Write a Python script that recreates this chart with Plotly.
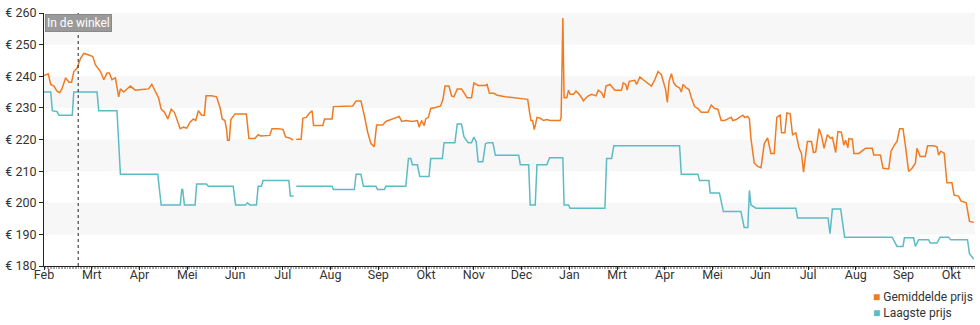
import plotly.graph_objects as go

# ---- data (x = days since start of chart) ----
avg_days = [0, 2.7, 4.3, 6.3, 8.3, 10.0, 11.4, 13.8, 15.9, 17.6, 19.0, 21.1, 23.3, 25.4, 28.6, 31.1, 32.8, 36.0, 38.1, 40.2,
            41.7, 43.3, 45.5, 47.6, 48.7, 50.8, 55.0, 58.2, 62.4, 66.6, 68.7, 70.9, 73.0, 74.7, 76.8, 78.9, 81.1, 83.1, 84.6, 86.8,
            88.9, 91.0, 93.1, 95.2, 96.7, 98.4, 100.5, 102.2, 103.3, 106.8, 110.0, 112.2, 113.6, 115.3, 116.3, 117.0, 118.1, 119.1, 121.7, 129.0,
            130.6, 134.4, 136.5, 138.2, 143.9, 145.3, 149.2, 152.3, 154.0, 156.6, 158.7, 159.8, 160.8, 163.9, 165.0, 167.1, 169.3, 170.9, 171.8, 177.7,
            178.8, 183.6, 184.5, 196.8, 198.9, 202.0, 204.2, 206.3, 208.4, 210.5, 212.0, 215.8, 217.9, 221.1, 224.2, 226.4, 228.0, 230.6, 234.8, 238.0,
            239.1, 240.7, 242.3, 243.3, 245.0, 246.5, 249.6, 252.8, 254.3, 255.6, 258.1, 259.8, 261.3, 263.4, 266.1, 267.7, 269.7, 272.5, 274.0, 276.7,
            281.4, 282.4, 283.9, 286.7, 288.8, 294.1, 298.3, 303.6, 308.3, 309.5, 310.4, 311.4, 312.5, 313.4, 314.2, 316.3, 318.4, 320.5, 322.6, 329.0,
            329.6, 330.7, 331.5, 333.2, 334.3, 335.3, 337.5, 339.1, 340.6, 342.7, 343.8, 345.5, 347.0, 349.1, 351.8, 353.3, 355.4, 356.9, 358.2, 360.7,
            363.9, 368.1, 369.2, 370.8, 371.7, 373.0, 376.6, 377.7, 379.8, 381.9, 384.0, 387.2, 389.3, 391.4, 393.5, 395.0, 396.2, 397.3, 398.4, 399.9,
            401.4, 403.0, 405.1, 406.2, 407.3, 409.4, 411.1, 412.6, 414.7, 416.8, 418.9, 423.2, 425.3, 427.4, 429.5, 431.6, 433.8, 435.9, 438.0, 439.0,
            441.2, 443.2, 445.4, 446.6, 448.6, 449.6, 450.6, 452.7, 454.9, 457.0, 459.1, 461.2, 463.3, 465.4, 467.1, 469.2, 470.1, 472.2, 473.5, 475.6,
            477.1, 479.2, 481.3, 482.8, 484.1, 485.5, 486.6, 489.2, 490.4, 491.9, 494.0, 495.5, 497.2, 499.3, 501.4, 502.5, 504.6, 506.0, 508.2, 509.8,
            510.9, 512.4, 513.0, 515.2, 516.2, 519.4, 520.9, 523.6, 527.9, 528.9, 533.1, 534.8, 538.4, 539.9, 542.0, 543.7, 545.4, 547.5, 549.0, 551.1,
            553.3, 555.4, 556.4, 558.5, 561.7, 563.2, 567.0, 569.2, 570.2, 571.7, 573.8, 575.5, 578.7, 580.1, 582.9, 584.4, 587.8, 589.2, 589.9, 592.6]
avg_price = [240.2, 240.8, 237.4, 236.9, 235.3, 234.8, 236.0, 239.5, 238.1, 238.1, 241.5, 242.6, 245.7, 247.2, 246.7, 246.2, 243.6, 241.5, 238.9, 241.0,
             241.0, 238.9, 239.5, 233.5, 236.0, 235.0, 236.9, 235.6, 235.8, 236.0, 237.4, 235.0, 233.2, 229.6, 228.6, 226.5, 229.6, 228.6, 226.7, 223.4,
             223.9, 223.6, 225.5, 226.5, 226.0, 229.1, 227.7, 227.7, 233.8, 233.8, 233.5, 230.1, 226.5, 226.0, 223.4, 219.8, 219.8, 226.3, 228.1, 228.1,
             220.3, 220.3, 221.5, 221.1, 221.3, 223.4, 223.4, 223.2, 220.8, 220.5, 219.8, None, 220.1, 220.1, 226.7, 227.0, 228.4, 229.1, 224.4, 224.4,
             226.5, 226.5, 230.4, 230.6, 232.2, 232.2, 227.5, 222.3, 218.7, 217.7, 224.6, 224.6, 225.7, 226.3, 227.0, 227.3, 225.7, 226.0, 225.7, 226.0,
             223.9, 226.0, 224.4, 226.5, 227.0, 229.8, 230.1, 230.6, 232.7, 236.9, 236.9, 233.8, 233.5, 236.0, 236.0, 234.6, 233.2, 233.2, 237.9, 237.1,
             237.1, 237.4, 234.6, 234.6, 234.0, 233.5, 233.2, 233.0, 232.7, 228.6, 226.0, 226.0, 223.1, 225.0, 227.0, 226.7, 226.0, 226.3, 226.0, 226.0,
             227.0, 258.4, 233.2, 233.2, 235.6, 234.3, 234.3, 235.3, 234.6, 233.2, 232.2, 233.2, 233.8, 234.3, 233.8, 235.6, 234.8, 233.2, 236.9, 237.4,
             235.6, 235.6, 237.9, 237.4, 235.6, 238.4, 238.7, 237.4, 239.8, 238.9, 238.1, 236.9, 238.9, 241.5, 240.5, 237.4, 235.8, 231.7, 238.4, 240.8,
             237.9, 236.9, 236.3, 235.0, 237.4, 236.3, 235.8, 233.2, 230.4, 229.8, 228.6, 228.6, 230.9, 229.8, 229.6, 226.0, 226.0, 226.5, 227.0, 226.0,
             226.3, 227.0, 227.7, 227.0, 227.3, 226.5, 220.3, 212.5, 211.5, 211.1, 218.7, 220.5, 215.6, 215.6, 227.0, 227.7, 222.1, 222.1, 228.4, 228.1,
             221.5, 222.1, 217.2, 215.6, 209.7, 215.3, 219.4, 219.4, 215.9, 216.1, 223.4, 221.3, 217.2, 221.5, 220.3, 220.8, 215.9, 222.5, 222.3, 218.2,
             219.8, 217.4, 220.3, 220.1, 215.6, 215.6, 216.1, 217.2, 217.2, 215.1, 215.1, 210.9, 210.7, 216.3, 218.2, 219.4, 223.4, 223.4, 218.2, 209.9,
             210.9, 212.5, 217.2, 214.6, 214.6, 218.0, 218.0, 217.7, 215.1, 216.3, 215.6, 206.3, 206.3, 202.4, 202.1, 200.6, 200.0, 196.4, 194.1, 193.8]

low_days = [0, 4.3, 5.3, 8.4, 9.5, 18.0, 19.0, 33.8, 34.9, 46.5, 48.7, 72.5, 74.7, 86.8, 87.8, 88.4, 89.5, 96.3, 97.3, 103.6,
            104.7, 120.6, 122.1, 128.4, 129.7, 131.2, 135.4, 136.5, 138.6, 139.6, 156.1, 157.0, 159.1, 159.9, 160.8, 183.6, 184.5, 197.8, 198.9, 202.0,
            203.6, 211.5, 212.6, 216.9, 217.9, 230.6, 232.3, 233.8, 234.8, 238.0, 239.5, 245.4, 246.5, 253.9, 255.0, 261.9, 263.4, 266.1, 267.7, 270.4,
            272.5, 274.0, 275.5, 276.7, 279.7, 281.4, 283.1, 286.1, 287.7, 302.6, 303.6, 308.9, 309.9, 313.1, 314.2, 320.5, 322.2, 330.7, 331.5, 334.3,
            335.3, 357.5, 358.6, 361.8, 363.2, 405.1, 406.2, 416.8, 417.8, 423.8, 424.6, 430.5, 433.0, 444.2, 446.3, 448.6, 449.6, 450.6, 453.8, 479.2,
            480.3, 499.7, 501.0, 502.5, 507.8, 510.3, 540.6, 543.7, 547.5, 548.4, 554.3, 555.4, 557.5, 563.8, 564.9, 569.2, 571.2, 576.5, 578.0, 588.6,
            589.9, 592.6]
low_price = [235.0, 235.0, 229.1, 228.8, 227.7, 227.7, 235.0, 235.0, 229.1, 229.1, 209.0, 209.0, 199.3, 199.3, 204.2, 204.2, 199.3, 199.3, 205.9, 205.9,
             205.2, 205.2, 199.3, 199.3, 200.0, 199.3, 199.3, 205.2, 205.2, 207.0, 207.0, 202.1, 202.1, None, 205.2, 205.2, 204.2, 204.2, 209.0, 209.0,
             205.2, 205.2, 204.2, 204.2, 205.2, 205.2, 214.0, 214.0, 212.0, 212.0, 208.3, 208.3, 214.0, 214.0, 219.0, 219.0, 224.9, 224.9, 220.8, 219.0,
             219.0, 220.8, 219.2, 213.0, 213.0, 218.7, 219.0, 219.0, 215.0, 215.0, 212.0, 212.0, 199.3, 199.3, 212.0, 212.0, 214.2, 214.2, 199.3, 199.3,
             198.3, 198.3, 214.0, 214.0, 218.0, 218.0, 209.0, 209.0, 207.0, 207.0, 203.1, 203.1, 197.2, 197.2, 192.2, 192.2, 203.9, 199.3, 198.3, 198.3,
             195.2, 195.2, 190.2, 198.0, 198.0, 189.1, 189.1, 186.2, 186.2, 188.9, 188.9, 186.2, 188.3, 188.3, 187.3, 187.3, 189.1, 189.1, 188.3, 188.3,
             183.8, 182.2]

tick_labels = ["Feb", "Mrt", "Apr", "Mei", "Jun", "Jul", "Aug", "Sep", "Okt", "Nov",
               "Dec", "Jan", "Mrt", "Apr", "Mei", "Jun", "Jul", "Aug", "Sep", "Okt"]
month_len = 365.25 / 12
tick_days = [i * month_len for i in range(len(tick_labels))]

y_ticks = [180, 190, 200, 210, 220, 230, 240, 250, 260]
band_ranges = [(190, 200), (210, 220), (230, 240), (250, 260)]
event_day = 21.8
event_label = "In de winkel"
x_end = 593.4

orange = "#f07b22"
cyan = "#5cbcc6"
font_family = "Roboto, Arial, sans-serif"

fig = go.Figure()

for lo, hi in band_ranges:
    fig.add_hrect(y0=lo, y1=hi, fillcolor="#f7f7f7", line_width=0, layer="below")

fig.add_trace(go.Scatter(x=avg_days, y=avg_price, mode="lines", name="Gemiddelde prijs",
                         line=dict(color=orange, width=1.5), connectgaps=False, showlegend=False))
fig.add_trace(go.Scatter(x=low_days, y=low_price, mode="lines", name="Laagste prijs",
                         line=dict(color=cyan, width=1.5), connectgaps=False, showlegend=False))

fig.add_vline(x=event_day, line=dict(color="#222", width=1, dash="dot"))

fig.add_annotation(x=0, y=1, xref="paper", yref="paper", xanchor="left", yanchor="top",
                   text=event_label, showarrow=False, font=dict(family=font_family, size=12, color="white"),
                   bgcolor="#9a9a9a", bordercolor="#8a8a8a", borderwidth=1, borderpad=1, xshift=1, yshift=-1)

legend_text = (f'<span style="color:{orange}">■</span> Gemiddelde prijs<br>'
               f'<span style="color:{cyan}">■</span> Laagste prijs')
fig.add_annotation(x=0.888, y=-0.085, xref="paper", yref="paper", xanchor="left", yanchor="top",
                   text=legend_text, showarrow=False, align="left",
                   font=dict(family=font_family, size=12, color="#333"))

fig.update_layout(
    width=980, height=325,
    margin=dict(l=40, r=5, t=9, b=59),
    paper_bgcolor="white", plot_bgcolor="white",
    font=dict(family=font_family, size=12, color="#333"),
    showlegend=False,
)
fig.update_xaxes(range=[0, x_end], tickmode="array", tickvals=tick_days, ticktext=tick_labels,
                 showgrid=False, zeroline=False, showline=True, linecolor="#222", linewidth=1,
                 ticks="outside", ticklen=3, tickcolor="#222", ticklabelstandoff=-6,
                 minor=dict(dtick=1, tick0=0, ticks="outside", ticklen=2, tickcolor="#aaa"),
                 tickfont=dict(family=font_family, size=12.5, color="#333"))
fig.update_yaxes(range=[180, 260], tickmode="array", tickvals=y_ticks,
                 ticktext=[f"€ {v}" for v in y_ticks],
                 showgrid=False, zeroline=False, showline=True, linecolor="#222", linewidth=1,
                 ticks="outside", ticklen=4, tickcolor="#222",
                 tickfont=dict(family=font_family, size=12.5, color="#333"))

fig.write_html("out.html")
